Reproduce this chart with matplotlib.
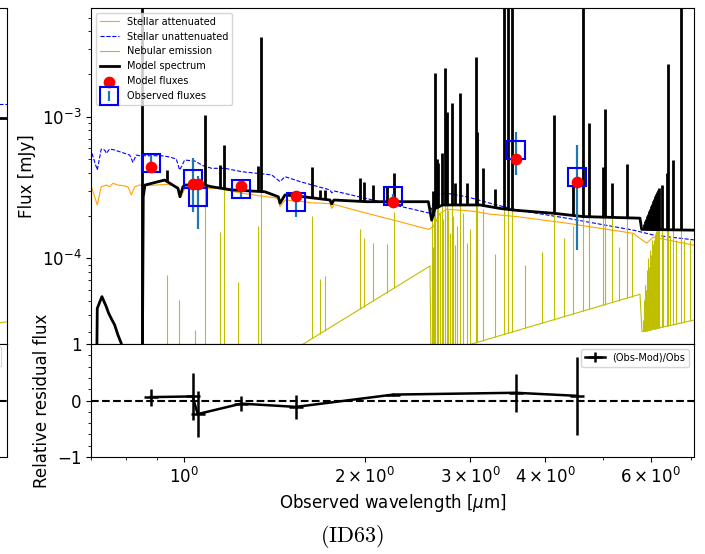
import numpy as np
import matplotlib.pyplot as plt
from matplotlib.patches import FancyBboxPatch
from matplotlib.ticker import FixedLocator, NullFormatter, MultipleLocator

# ---- photometry (wavelength in micron, flux in mJy) ----
filter_wl = [0.880, 1.034, 1.054, 1.246, 1.537, 2.233, 3.571, 4.523]
model_fluxes = [4.41e-4, 3.35e-4, 3.35e-4, 3.24e-4, 2.76e-4, 2.48e-4, 5.05e-4, 3.44e-4]
obs_fluxes = [4.69e-4, 3.61e-4, 2.70e-4, 3.07e-4, 2.48e-4, 2.77e-4, 5.85e-4, 3.75e-4]
obs_errors = [0.71e-4, 1.49e-4, 1.10e-4, 0.40e-4, 0.53e-4, 0.08e-4, 1.95e-4, 2.60e-4]

# ---- stellar attenuated continuum ----
att_wl = [0.7025, 0.7170, 0.7280, 0.7422, 0.7519, 0.7615, 0.7762, 0.7912, 0.8067,
          0.8170, 0.8276, 0.8436, 0.8710, 0.9358, 0.9772, 0.9886, 1.0038, 1.1407,
          1.2481, 1.4361, 1.4454, 1.4735, 1.5809, 1.6218, 1.7512, 1.7628, 1.7780,
          2.0166, 2.2909, 2.5544, 2.6032, 2.6714, 2.7406, 3.0357, 3.2360, 3.5858,
          4.3431, 5.6103, 5.7544, 5.9049, 6.0564, 7.0632, 7.2]
att_flux = [3.12e-4, 2.38e-4, 3.20e-4, 3.29e-4, 3.20e-4, 3.39e-4, 3.29e-4, 3.26e-4, 3.20e-4,
            2.80e-4, 3.20e-4, 3.29e-4, 3.26e-4, 3.33e-4, 3.20e-4, 2.72e-4, 3.12e-4, 3.12e-4,
            2.88e-4, 2.65e-4, 2.31e-4, 2.58e-4, 2.51e-4, 2.47e-4, 2.43e-4, 2.25e-4, 2.40e-4,
            2.08e-4, 1.81e-4, 1.60e-4, 1.67e-4, 2.08e-4, 2.22e-4, 2.15e-4, 2.05e-4, 1.97e-4,
            1.77e-4, 1.50e-4, 1.38e-4, 1.28e-4, 1.41e-4, 1.24e-4, 1.23e-4]

# ---- stellar unattenuated continuum ----
unatt_wl = [0.7025, 0.7170, 0.7280, 0.7376, 0.7422, 0.7519, 0.7665, 0.7813, 0.7966,
            0.8120, 0.8222, 0.8326, 0.8436, 0.9166, 0.9404, 0.9709, 0.9835, 1.0027,
            1.0419, 1.0757, 1.1122, 1.1703, 1.2481, 1.4002, 1.4454, 1.4735, 1.5610,
            1.7512, 1.7628, 1.7780, 2.5704, 2.6300, 2.7406, 2.9597, 3.2360, 3.5858,
            4.3431, 5.6103, 6.0564, 7.0632, 7.2]
unatt_flux = [5.51e-4, 4.20e-4, 5.91e-4, 5.82e-4, 5.51e-4, 5.91e-4, 5.82e-4, 5.66e-4, 5.51e-4,
              5.36e-4, 4.76e-4, 5.36e-4, 5.30e-4, 5.30e-4, 5.22e-4, 5.03e-4, 4.20e-4, 4.94e-4,
              4.87e-4, 4.51e-4, 4.32e-4, 4.32e-4, 4.09e-4, 3.88e-4, 3.48e-4, 3.77e-4, 3.48e-4,
              3.04e-4, 2.90e-4, 2.99e-4, 2.08e-4, 2.80e-4, 2.88e-4, 2.72e-4, 2.45e-4, 2.19e-4,
              1.92e-4, 1.58e-4, 1.46e-4, 1.35e-4, 1.33e-4]

# ---- nebular continuum ----
neb_wl = [0.69, 1.5020, 2.5704, 2.5803, 5.7544, 5.7984, 7.2]
neb_flux = [2.9e-6, 2.17e-5, 8.82e-5, 2.04e-5, 5.57e-5, 3.03e-5, 3.72e-5]

# ---- model spectrum continuum ----
model_wl = [0.690, 0.7146, 0.7170, 0.7299, 0.7422, 0.7490, 0.7586, 0.7665, 0.7762,
            0.7861, 0.800, 0.852, 0.8554, 0.8610, 0.9286, 0.9772, 0.9848, 0.9962,
            1.0038, 1.0826, 1.1122, 1.2011, 1.3646, 1.4361, 1.4454, 1.4735, 1.5809,
            1.7512, 1.7628, 1.7780, 2.0166, 2.5544, 2.5872, 2.6202, 2.7000, 3.1142,
            3.3633, 3.5391, 4.1257, 4.6291, 5.7544, 5.7917, 7.0632, 7.2]
model_flux = [1.0e-5, 1.0e-5, 4.43e-5, 5.36e-5, 4.55e-5, 4.09e-5, 3.67e-5, 3.38e-5, 2.87e-5,
              2.51e-5, 1.2e-5, 1.2e-5, 2.72e-4, 3.29e-4, 3.57e-4, 3.12e-4, 2.72e-4, 3.20e-4,
              3.29e-4, 3.29e-4, 3.20e-4, 3.04e-4, 2.95e-4, 2.72e-4, 2.45e-4, 2.80e-4, 2.72e-4,
              2.58e-4, 2.42e-4, 2.58e-4, 2.51e-4, 2.51e-4, 1.86e-4, 2.25e-4, 2.38e-4, 2.38e-4,
              2.25e-4, 2.19e-4, 2.08e-4, 1.97e-4, 1.92e-4, 1.60e-4, 1.58e-4, 1.57e-4]

# ---- emission lines in the model spectrum (peak of total flux) ----
line_wl = [0.8521, 0.9358, 1.0839, 1.1494, 1.1674, 1.3270, 1.3425, 1.6363, 1.6855,
           1.7179, 1.9653, 1.9953, 2.0683, 2.1772, 2.2416, 2.6000, 2.6202, 2.6400,
           2.6537, 2.6887, 2.7227, 2.7406, 2.7942, 2.8298, 2.8840, 2.9597, 3.0635,
           3.0785, 3.1467, 3.2984, 3.4145, 3.4717, 3.5174, 4.1411, 4.4564, 4.6291,
           4.7368, 4.9863, 5.0307, 5.1730, 5.4680, 5.8445, 5.8658, 5.8884, 5.9110,
           5.9336, 5.9566, 5.9795, 6.0025, 6.0256, 6.0488, 6.0722, 6.0954, 6.1193,
           6.1423, 6.1660, 6.1896, 6.2547, 6.3755, 6.4150, 6.5240, 6.7345]
line_peak = [1.0e-2, 4.2e-4, 1.02e-3, 4.55e-4, 6.3e-4, 4.5e-4, 3.67e-3, 4.4e-4, 3.05e-4,
             3.05e-4, 3.7e-4, 3.45e-4, 3.3e-4, 3.2e-4, 4.0e-4, 3.0e-4, 2.03e-3, 5.0e-4,
             4.71e-4, 5.54e-4, 2.20e-3, 1.08e-3, 1.24e-3, 3.39e-4, 1.46e-3, 3.41e-4, 2.63e-3,
             7.8e-4, 4.32e-4, 3.07e-4, 1.0e-2, 1.0e-2, 1.0e-2, 1.02e-3, 3.3e-4, 1.0e-2,
             9.07e-4, 4.43e-4, 1.13e-3, 3.39e-4, 4.6e-4, 1.75e-4, 1.83e-4, 1.89e-4, 1.99e-4,
             2.06e-4, 2.16e-4, 2.23e-4, 2.34e-4, 2.42e-4, 2.54e-4, 2.62e-4, 2.75e-4, 2.84e-4,
             2.95e-4, 3.04e-4, 3.13e-4, 3.29e-4, 3.98e-4, 2.34e-3, 4.94e-4, 1.0e-2]

# ---- weaker nebular-only lines (peak of nebular flux) ----
weak_wl = [0.9798, 1.0431, 1.2288, 2.5906, 2.6056, 2.6360, 2.6666, 2.7023, 2.7542,
           2.7757, 2.8078, 2.8566, 2.9174, 2.9967, 3.70, 3.95, 4.30, 5.30, 5.58,
           5.8210, 5.8546, 5.8771, 5.9110, 5.9452, 5.9912, 6.0372, 6.0954, 6.1423,
           6.2016, 6.2853, 6.4565, 6.6069, 6.8129, 6.9711]
weak_peak = [5.1e-5, 3.1e-5, 6.8e-5, 2.2e-4, 2.0e-4, 1.8e-4, 2.1e-4, 1.9e-4, 2.2e-4,
             1.5e-4, 2.0e-4, 1.7e-4, 2.1e-4, 1.6e-4, 9.0e-5, 1.1e-4, 1.4e-4, 1.2e-4, 1.5e-4,
             3.67e-5, 5.08e-5, 6.5e-5, 8.3e-5, 1.01e-4, 1.15e-4, 1.35e-4, 1.44e-4, 1.44e-4,
             1.44e-4, 1.44e-4, 1.44e-4, 1.35e-4, 1.35e-4, 1.35e-4]

# ---- neighbouring panel (only its right edge is in the crop) ----
nb_wl = [6.0, 7.2]
nb_unatt = [1.23e-3, 1.23e-3]
nb_model = [9.8e-4, 9.8e-4]
nb_neb = [3.2e-5, 3.6e-5]


def log_interp(x, xp, fp):
    return 10 ** np.interp(np.log10(x), np.log10(xp), np.log10(fp))


line_base = log_interp(line_wl, model_wl, model_flux)
line_neb_base = log_interp(line_wl, neb_wl, neb_flux)
line_neb_peak = line_neb_base + np.clip(np.array(line_peak) - line_base, 0, None)
weak_base = log_interp(weak_wl, neb_wl, neb_flux)

obs = np.array(obs_fluxes)
residual = (obs - np.array(model_fluxes)) / obs
residual_err = np.array(obs_errors) / obs

xlim = (0.700, 7.08)
ylim = (2.48e-5, 5.86e-3)

fig = plt.figure(figsize=(7.05, 5.54), dpi=100)
ax1 = fig.add_axes([0.1291, 0.37906, 0.8553, 0.6065])
ax2 = fig.add_axes([0.1291, 0.17509, 0.8553, 0.20397], sharex=ax1)

# neighbouring panel, mostly outside the figure
nb1 = fig.add_axes([-0.85, 0.37906, 0.85993, 0.6065])
nb2 = fig.add_axes([-0.85, 0.17509, 0.85993, 0.20397], sharex=nb1)
nb1.loglog(nb_wl, nb_unatt, color='b', ls='--', lw=0.8)
nb1.loglog(nb_wl, nb_neb, color='y', lw=0.8)
nb1.loglog(nb_wl, nb_model, color='k', lw=2)
nb1.set_xlim(xlim)
nb1.set_ylim(ylim)
nb2.axhline(0, color='k', ls='--', lw=1.5)
nb2.set_ylim(-1, 1)
# right edge of that panel's residual legend box
nb2.add_patch(FancyBboxPatch((0.80, 0.80), 0.191, 0.17, transform=nb2.transAxes,
                             boxstyle='round,pad=0,rounding_size=0.004',
                             facecolor='white', edgecolor='0.8', lw=0.8, alpha=0.8))
for a in (nb1, nb2):
    a.set_xticks([])
    a.set_yticks([])
    a.minorticks_off()

# main SED panel
ax1.loglog(att_wl, att_flux, color='orange', lw=0.8, label='Stellar attenuated')
ax1.loglog(unatt_wl, unatt_flux, color='b', ls='--', lw=0.8, label='Stellar unattenuated')
ax1.loglog(neb_wl, neb_flux, color='y', lw=0.8, label='Nebular emission')
ax1.vlines(line_wl, line_neb_base, line_neb_peak, color='y', lw=0.8)
ax1.vlines(weak_wl, weak_base, weak_peak, color='y', lw=0.8)
ax1.loglog(model_wl, model_flux, color='k', lw=2, label='Model spectrum')
ax1.vlines(line_wl, line_base, line_peak, color='k', lw=2)
ax1.errorbar(filter_wl, obs_fluxes, yerr=obs_errors, ls='', marker='s', ms=13,
             mfc='none', mec='b', mew=1.5, ecolor='C0', elinewidth=1.6, capsize=0,
             label='Observed fluxes', zorder=2.5)
ax1.scatter(filter_wl, model_fluxes, marker='o', color='r', s=55, zorder=3,
            label='Model fluxes')
ax1.set_xlim(xlim)
ax1.set_ylim(ylim)
ax1.set_ylabel('Flux [mJy]', fontsize=12)
ax1.tick_params(axis='y', labelsize=12)
ax1.tick_params(axis='x', which='both', bottom=False, labelbottom=False)
ax1.legend(loc='upper left', fontsize=7)

# residuals
ax2.errorbar(filter_wl, residual, yerr=residual_err, color='k', marker='_', ms=10,
             mew=1.8, lw=1.8, capsize=0, label='(Obs-Mod)/Obs')
ax2.axhline(0, color='k', ls='--', lw=1.5)
ax2.set_ylim(-1, 1)
ax2.set_yticks([-1, 0, 1])
ax2.yaxis.set_minor_locator(MultipleLocator(0.2))
ax2.set_xscale('log')
ax2.set_xlim(xlim)
ax2.set_xticks([1, 2, 3, 4, 6])
ax2.set_xticklabels([r'$10^{0}$', r'$2\times10^{0}$', r'$3\times10^{0}$',
                     r'$4\times10^{0}$', r'$6\times10^{0}$'])
ax2.xaxis.set_minor_locator(FixedLocator([0.7, 0.8, 0.9, 5, 7]))
ax2.xaxis.set_minor_formatter(NullFormatter())
ax2.tick_params(labelsize=12)
ax2.set_xlabel(r'Observed wavelength [$\mu$m]', fontsize=12)
ax2.set_ylabel('Relative residual flux', fontsize=12)
ax2.legend(loc='upper right', fontsize=7)

fig.text(0.499, 0.031, r'$\mathrm{(ID63)}$', ha='center', va='center', fontsize=16,
         math_fontfamily='cm')

fig.savefig('out.png', dpi=100)
